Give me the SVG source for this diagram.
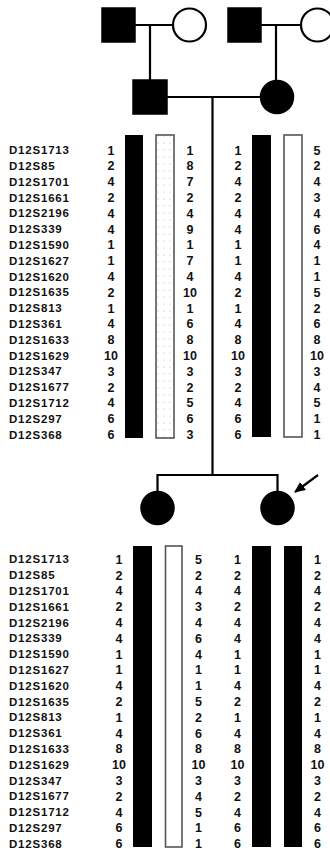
<svg xmlns="http://www.w3.org/2000/svg" width="330" height="854" viewBox="0 0 330 854">
<defs>
<pattern id="dots" width="6" height="7" patternUnits="userSpaceOnUse">
<rect width="6" height="7" fill="#fff"/>
<circle cx="2" cy="3" r="0.5" fill="#aaa"/>
</pattern>
<marker id="ah" markerWidth="11" markerHeight="10" refX="10" refY="5" orient="auto" markerUnits="userSpaceOnUse">
<path d="M0,0 L11,5 L0,10 Z" fill="#000"/>
</marker>
<style>
.ln{stroke:#000;stroke-width:2.2;fill:none}
.aff{fill:#000;stroke:#000;stroke-width:1.5}
.unaff{fill:#fff;stroke:#000;stroke-width:2.2}
.bk{fill:#000}
.wb{fill:#fff;stroke:#555;stroke-width:1.6}
.db{fill:url(#dots);stroke:#555;stroke-width:1.6}
.lab{font-family:"Liberation Sans",Arial,sans-serif;font-weight:bold;font-size:11.5px;letter-spacing:0.8px;fill:#111}
.num{font-family:"Liberation Sans",Arial,sans-serif;font-weight:bold;font-size:12.5px;text-anchor:middle;fill:#111}
</style>
</defs>
<rect width="330" height="854" fill="#fff"/>

<g id="connectors">
<path class="ln" d="M135,25 H173 M150,25 V80"/>
<path class="ln" d="M261,25 H300 M276,25 V80"/>
<path class="ln" d="M167,97 H260 M212.5,97 V475 M157.5,475 H277.5 M157.5,474 V491 M277.5,474 V491"/>
<line class="ln" x1="318" y1="475" x2="295" y2="492" stroke-width="2.6" marker-end="url(#ah)"/>
</g>

<g id="grandfather-paternal"><rect class="aff" x="102" y="8" width="33" height="34"/></g>
<g id="grandmother-paternal"><circle class="unaff" cx="189.5" cy="25" r="16.5"/></g>
<g id="grandfather-maternal"><rect class="aff" x="228" y="8" width="33" height="34"/></g>
<g id="grandmother-maternal"><circle class="unaff" cx="317.5" cy="25" r="16.5"/></g>
<g id="father"><rect class="aff" x="133" y="80" width="34" height="34"/></g>
<g id="mother"><circle class="aff" cx="277" cy="97" r="16.5"/></g>
<g id="daughter1"><circle class="aff" cx="157.5" cy="508" r="16.5"/></g>
<g id="proband"><circle class="aff" cx="277.5" cy="508" r="16.5"/></g>

<g id="haplotype-parents">
<rect class="bk" x="125" y="135" width="18" height="303"/>
<rect class="db" x="156" y="135" width="18" height="303"/>
<rect class="bk" x="252" y="135" width="19" height="302"/>
<rect class="wb" x="284" y="135" width="18" height="302"/>
<g class="lab">
<text x="9" y="154.2">D12S1713</text><text x="9" y="170">D12S85</text><text x="9" y="185.8">D12S1701</text><text x="9" y="201.6">D12S1661</text><text x="9" y="217.4">D12S2196</text><text x="9" y="233.2">D12S339</text><text x="9" y="249">D12S1590</text><text x="9" y="264.8">D12S1627</text><text x="9" y="280.6">D12S1620</text><text x="9" y="296.4">D12S1635</text><text x="9" y="312.2">D12S813</text><text x="9" y="328">D12S361</text><text x="9" y="343.8">D12S1633</text><text x="9" y="359.6">D12S1629</text><text x="9" y="375.4">D12S347</text><text x="9" y="391.2">D12S1677</text><text x="9" y="407">D12S1712</text><text x="9" y="422.8">D12S297</text><text x="9" y="438.6">D12S368</text>
</g>
<g class="num">
<text x="111" y="154.5">1</text><text x="111" y="170.3">2</text><text x="111" y="186.1">4</text><text x="111" y="201.9">2</text><text x="111" y="217.7">4</text><text x="111" y="233.5">4</text><text x="111" y="249.3">1</text><text x="111" y="265.1">1</text><text x="111" y="280.9">4</text><text x="111" y="296.7">2</text><text x="111" y="312.5">1</text><text x="111" y="328.3">4</text><text x="111" y="344.1">8</text><text x="111" y="359.9">10</text><text x="111" y="375.7">3</text><text x="111" y="391.5">2</text><text x="111" y="407.3">4</text><text x="111" y="423.1">6</text><text x="111" y="438.9">6</text>
<text x="190" y="154.5">1</text><text x="190" y="170.3">8</text><text x="190" y="186.1">7</text><text x="190" y="201.9">2</text><text x="190" y="217.7">4</text><text x="190" y="233.5">9</text><text x="190" y="249.3">1</text><text x="190" y="265.1">7</text><text x="190" y="280.9">4</text><text x="190" y="296.7">10</text><text x="190" y="312.5">1</text><text x="190" y="328.3">6</text><text x="190" y="344.1">8</text><text x="190" y="359.9">10</text><text x="190" y="375.7">3</text><text x="190" y="391.5">2</text><text x="190" y="407.3">5</text><text x="190" y="423.1">6</text><text x="190" y="438.9">3</text>
<text x="238" y="154.5">1</text><text x="238" y="170.3">2</text><text x="238" y="186.1">4</text><text x="238" y="201.9">2</text><text x="238" y="217.7">4</text><text x="238" y="233.5">4</text><text x="238" y="249.3">1</text><text x="238" y="265.1">1</text><text x="238" y="280.9">4</text><text x="238" y="296.7">2</text><text x="238" y="312.5">1</text><text x="238" y="328.3">4</text><text x="238" y="344.1">8</text><text x="238" y="359.9">10</text><text x="238" y="375.7">3</text><text x="238" y="391.5">2</text><text x="238" y="407.3">4</text><text x="238" y="423.1">6</text><text x="238" y="438.9">6</text>
<text x="317" y="154.5">5</text><text x="317" y="170.3">2</text><text x="317" y="186.1">4</text><text x="317" y="201.9">3</text><text x="317" y="217.7">4</text><text x="317" y="233.5">6</text><text x="317" y="249.3">4</text><text x="317" y="265.1">1</text><text x="317" y="280.9">1</text><text x="317" y="296.7">5</text><text x="317" y="312.5">2</text><text x="317" y="328.3">6</text><text x="317" y="344.1">8</text><text x="317" y="359.9">10</text><text x="317" y="375.7">3</text><text x="317" y="391.5">4</text><text x="317" y="407.3">5</text><text x="317" y="423.1">1</text><text x="317" y="438.9">1</text>
</g>
</g>

<g id="haplotype-children">
<rect class="bk" x="133" y="546" width="19" height="301"/>
<rect class="wb" x="165.5" y="546" width="16.5" height="301"/>
<rect class="bk" x="252" y="546" width="19" height="301"/>
<rect class="bk" x="284" y="546" width="18" height="301"/>
<g class="lab">
<text x="9" y="563.4">D12S1713</text><text x="9" y="579.2">D12S85</text><text x="9" y="595">D12S1701</text><text x="9" y="610.8">D12S1661</text><text x="9" y="626.6">D12S2196</text><text x="9" y="642.4">D12S339</text><text x="9" y="658.2">D12S1590</text><text x="9" y="674">D12S1627</text><text x="9" y="689.8">D12S1620</text><text x="9" y="705.6">D12S1635</text><text x="9" y="721.4">D12S813</text><text x="9" y="737.2">D12S361</text><text x="9" y="753">D12S1633</text><text x="9" y="768.8">D12S1629</text><text x="9" y="784.6">D12S347</text><text x="9" y="800.4">D12S1677</text><text x="9" y="816.2">D12S1712</text><text x="9" y="832">D12S297</text><text x="9" y="847.8">D12S368</text>
</g>
<g class="num">
<text x="119" y="563.7">1</text><text x="119" y="579.5">2</text><text x="119" y="595.3">4</text><text x="119" y="611.1">2</text><text x="119" y="626.9">4</text><text x="119" y="642.7">4</text><text x="119" y="658.5">1</text><text x="119" y="674.3">1</text><text x="119" y="690.1">4</text><text x="119" y="705.9">2</text><text x="119" y="721.7">1</text><text x="119" y="737.5">4</text><text x="119" y="753.3">8</text><text x="119" y="769.1">10</text><text x="119" y="784.9">3</text><text x="119" y="800.7">2</text><text x="119" y="816.5">4</text><text x="119" y="832.3">6</text><text x="119" y="848.1">6</text>
<text x="198.5" y="563.7">5</text><text x="198.5" y="579.5">2</text><text x="198.5" y="595.3">4</text><text x="198.5" y="611.1">3</text><text x="198.5" y="626.9">4</text><text x="198.5" y="642.7">6</text><text x="198.5" y="658.5">4</text><text x="198.5" y="674.3">1</text><text x="198.5" y="690.1">1</text><text x="198.5" y="705.9">5</text><text x="198.5" y="721.7">2</text><text x="198.5" y="737.5">6</text><text x="198.5" y="753.3">8</text><text x="198.5" y="769.1">10</text><text x="198.5" y="784.9">3</text><text x="198.5" y="800.7">4</text><text x="198.5" y="816.5">5</text><text x="198.5" y="832.3">1</text><text x="198.5" y="848.1">1</text>
<text x="237.5" y="563.7">1</text><text x="237.5" y="579.5">2</text><text x="237.5" y="595.3">4</text><text x="237.5" y="611.1">2</text><text x="237.5" y="626.9">4</text><text x="237.5" y="642.7">4</text><text x="237.5" y="658.5">1</text><text x="237.5" y="674.3">1</text><text x="237.5" y="690.1">4</text><text x="237.5" y="705.9">2</text><text x="237.5" y="721.7">1</text><text x="237.5" y="737.5">4</text><text x="237.5" y="753.3">8</text><text x="237.5" y="769.1">10</text><text x="237.5" y="784.9">3</text><text x="237.5" y="800.7">2</text><text x="237.5" y="816.5">4</text><text x="237.5" y="832.3">6</text><text x="237.5" y="848.1">6</text>
<text x="317.5" y="563.7">1</text><text x="317.5" y="579.5">2</text><text x="317.5" y="595.3">4</text><text x="317.5" y="611.1">2</text><text x="317.5" y="626.9">4</text><text x="317.5" y="642.7">4</text><text x="317.5" y="658.5">1</text><text x="317.5" y="674.3">1</text><text x="317.5" y="690.1">4</text><text x="317.5" y="705.9">2</text><text x="317.5" y="721.7">1</text><text x="317.5" y="737.5">4</text><text x="317.5" y="753.3">8</text><text x="317.5" y="769.1">10</text><text x="317.5" y="784.9">3</text><text x="317.5" y="800.7">2</text><text x="317.5" y="816.5">4</text><text x="317.5" y="832.3">6</text><text x="317.5" y="848.1">6</text>
</g>
</g>
</svg>
